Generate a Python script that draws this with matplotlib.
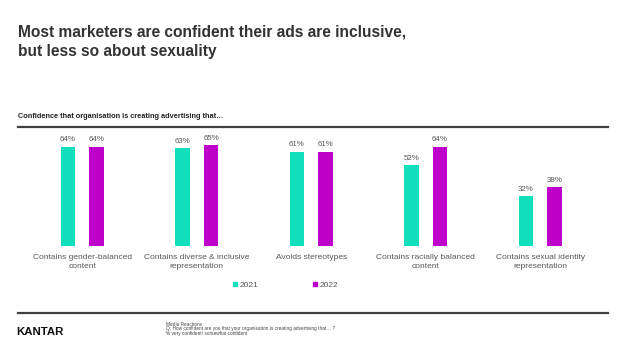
import numpy as np
import matplotlib
matplotlib.use("Agg")
import matplotlib.pyplot as plt
from matplotlib.lines import Line2D

# Datos del gráfico
categorias = [
    "Contains gender-balanced\ncontent",
    "Contains diverse & inclusive\nrepresentation",
    "Avoids stereotypes",
    "Contains racially balanced\ncontent",
    "Contains sexual identity\nrepresentation",
]
valores_2021 = [64, 63, 61, 52, 32]
valores_2022 = [64, 65, 61, 64, 38]
series = ["2021", "2022"]

titulo = "Most marketers are confident their ads are inclusive,\nbut less so about sexuality"
subtitulo = "Confidence that organisation is creating advertising that…"
notas = [
    "Media Reactions",
    "Q: How confident are you that your organisation is creating advertising that… ?",
    "% very confident/ somewhat confident",
]

TEAL = "#12E0BD"
PURPLE = "#BE00CB"
GRIS = "#595959"
W, H = 624, 351

plt.rcParams["font.family"] = ["Liberation Sans", "DejaVu Sans"]

fig = plt.figure(figsize=(W / 100, H / 100), dpi=100)


def fx(px):
    return px / W


def fy(py):
    return 1 - py / H


# Eje principal (posición en píxeles de la referencia)
ax = fig.add_axes([fx(25), fy(245.5), fx(572.5), 107.8 / H])
x = np.arange(len(categorias))
ancho = 0.127
desp = 0.1245
b1 = ax.bar(x - desp, valores_2021, ancho, color=TEAL)
b2 = ax.bar(x + desp, valores_2022, ancho, color=PURPLE)
for barras in (b1, b2):
    ax.bar_label(barras, labels=[f"{v}%" for v in barras.datavalues],
                 padding=2.5, fontsize=5.7, color=GRIS)

ax.set_xlim(-0.5, len(categorias) - 0.5)
ax.set_ylim(0, 70)
ax.set_xticks(x)
ax.set_xticklabels(categorias, fontsize=6, color=GRIS, linespacing=1.5)
ax.tick_params(axis="x", length=0, pad=6)
ax.set_yticks([])
for s in ax.spines.values():
    s.set_visible(False)

# Leyenda
handles = [Line2D([], [], marker="s", linestyle="", markersize=3.2, color=c)
           for c in (TEAL, PURPLE)]
fig.legend(handles, series, loc="center", bbox_to_anchor=(fx(285), fy(285)),
           ncol=2, frameon=False, fontsize=6, labelcolor=GRIS,
           handletextpad=0.1, columnspacing=6.5, handlelength=0.8)

# Títulos
lineas_titulo = titulo.split("\n")
fig.text(fx(18), fy(36.5), lineas_titulo[0], fontsize=11.2,
         fontweight="bold", color="#333333", va="baseline")
fig.text(fx(18), fy(56), lineas_titulo[1], fontsize=11.2,
         fontweight="bold", color="#333333", va="baseline")
fig.text(fx(18), fy(116.5), subtitulo, fontsize=5.35, fontweight="bold",
         color="#222222", va="center")

# Líneas horizontales
for yy in (127.3, 313.3):
    fig.add_artist(Line2D([fx(18), fx(608)], [fy(yy), fy(yy)],
                          color="#404040", linewidth=1.6))

# Pie
fig.text(fx(16.5), fy(332), "KANTAR", fontsize=8.2, fontweight="bold",
         color="#111111", va="center")
for i, linea in enumerate(notas):
    fig.text(fx(166), fy(324.5 + 4.4 * i), linea, fontsize=3.4,
             color="#444444", va="center")

fig.savefig("out.png", dpi=100)
